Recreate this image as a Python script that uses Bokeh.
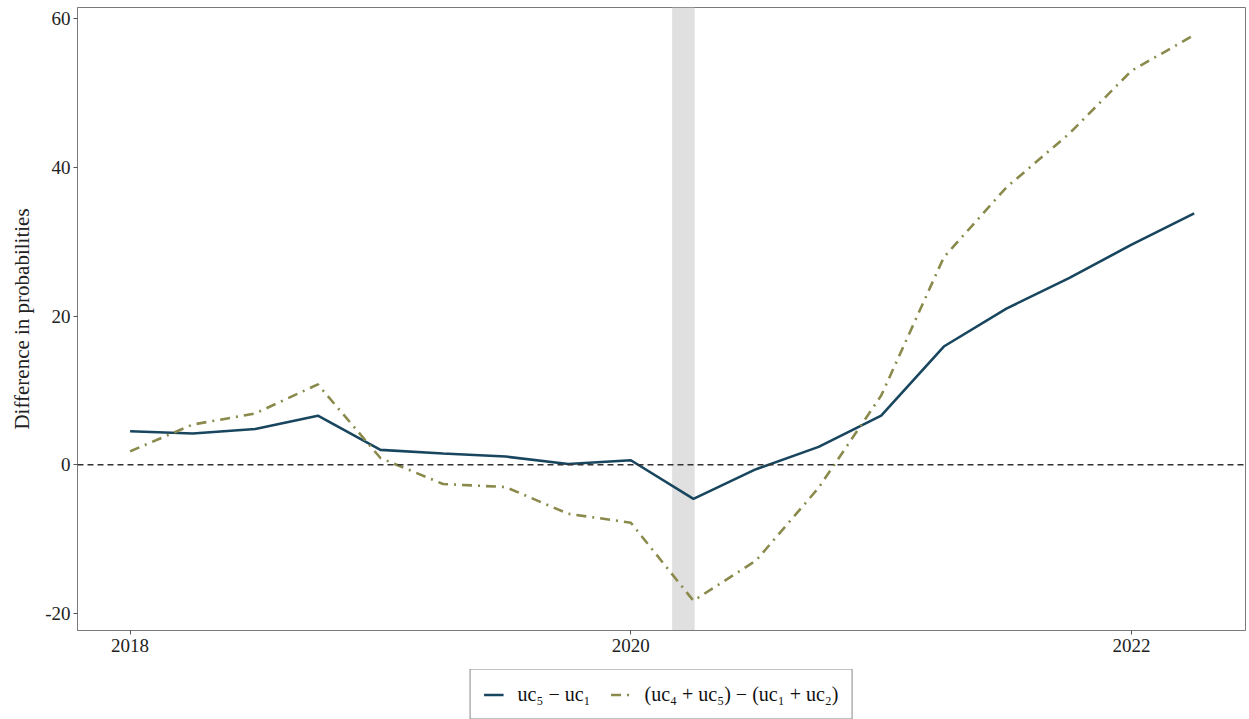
from bokeh.plotting import figure
from bokeh.layouts import column
from bokeh.models import (FixedTicker, Span, BoxAnnotation, Legend, LegendItem,
                          ColumnDataSource, PrintfTickFormatter)
from bokeh.embed import file_html
from bokeh.resources import INLINE

# Quarterly observations
quarters = [2018.0, 2018.25, 2018.5, 2018.75, 2019.0, 2019.25, 2019.5, 2019.75,
            2020.0, 2020.25, 2020.5, 2020.75, 2021.0, 2021.25, 2021.5, 2021.75,
            2022.0, 2022.25]
diff_extreme = [4.5, 4.2, 4.8, 6.6, 2.0, 1.5, 1.1, 0.1,
                0.6, -4.6, -0.6, 2.4, 6.6, 15.9, 21.0, 25.1,
                29.6, 33.8]
diff_pairs = [1.8, 5.4, 6.9, 10.8, 0.9, -2.6, -3.0, -6.6,
              -7.8, -18.3, -12.9, -3.1, 9.3, 27.9, 37.3, 44.5,
              53.0, 57.8]
series_labels = ["uc₅ − uc₁", "(uc₄ + uc₅) − (uc₁ + uc₂)"]

# Shaded period
band_start, band_end = 2020.165, 2020.255

y_ticks = [-20, 0, 20, 40, 60]
x_ticks = [2018, 2020, 2022]

SERIF = "Liberation Serif"
NAVY = "#19465f"
OLIVE = "#8a8a4c"
DASHDOT = "10 6 2 6"

p = figure(width=1249, height=669, output_backend="svg", toolbar_location=None,
           x_range=(2017.79, 2022.455), y_range=(-22.3, 61.5),
           min_border_left=77, min_border_right=4, min_border_top=7,
           min_border_bottom=39)

p.xgrid.visible = False
p.ygrid.visible = False
p.outline_line_color = "#7a7a7a"
p.outline_line_width = 1
p.background_fill_color = "white"
p.border_fill_color = "white"

for ax in (p.xaxis[0], p.yaxis[0]):
    ax.axis_line_color = "#7a7a7a"
    ax.major_tick_line_color = "#555555"
    ax.major_tick_out = 4
    ax.major_tick_in = 0
    ax.minor_tick_line_color = None
    ax.major_label_text_font = SERIF
    ax.major_label_text_font_size = "19px"
    ax.major_label_text_color = "#222222"

p.xaxis.ticker = FixedTicker(ticks=x_ticks)
p.yaxis.ticker = FixedTicker(ticks=y_ticks)
p.yaxis.formatter = PrintfTickFormatter(format="%d")
p.xaxis.major_label_standoff = 4
p.yaxis.major_label_standoff = 3
p.yaxis.axis_label = "Difference in probabilities"
p.yaxis.axis_label_text_font = SERIF
p.yaxis.axis_label_text_font_style = "normal"
p.yaxis.axis_label_text_font_size = "21px"
p.yaxis.axis_label_text_color = "#222222"
p.yaxis.axis_label_standoff = 8

band = BoxAnnotation(left=band_start, right=band_end, fill_color="#e0e0e0",
                     fill_alpha=1.0, line_color=None, level="underlay")
p.add_layout(band)

zero = Span(location=0, dimension="width", line_color="#333333",
            line_dash="6 4", line_width=1.4)
p.add_layout(zero)

src = ColumnDataSource(dict(q=quarters, a=diff_extreme, b=diff_pairs))
p.line("q", "a", source=src, line_color=NAVY, line_width=2.6)
p.line("q", "b", source=src, line_color=OLIVE, line_width=2.6, line_dash=DASHDOT)

# Legend strip under the chart; its key lines sit outside the strip's range
leg = figure(width=1249, height=50, output_backend="svg", toolbar_location=None,
             min_border=0, x_range=(0, 1), y_range=(0, 1))
leg.axis.visible = False
leg.grid.visible = False
leg.outline_line_color = None
leg.border_fill_color = "white"
k1 = leg.line("q", "a", source=src, line_color=NAVY, line_width=2.6)
k2 = leg.line("q", "b", source=src, line_color=OLIVE, line_width=2.6,
              line_dash=DASHDOT)

legend = Legend(items=[LegendItem(label=series_labels[0], renderers=[k1]),
                       LegendItem(label=series_labels[1], renderers=[k2])],
                orientation="horizontal", location="center",
                label_text_font=SERIF, label_text_font_size="20px",
                label_text_color="#111111",
                border_line_color="#111111", border_line_width=1.2,
                background_fill_alpha=1.0, padding=13, spacing=20,
                glyph_width=20, label_standoff=14, margin=0)
leg.add_layout(legend, "center")

open("out.html", "w").write(file_html(column(p, leg, spacing=0), INLINE))
